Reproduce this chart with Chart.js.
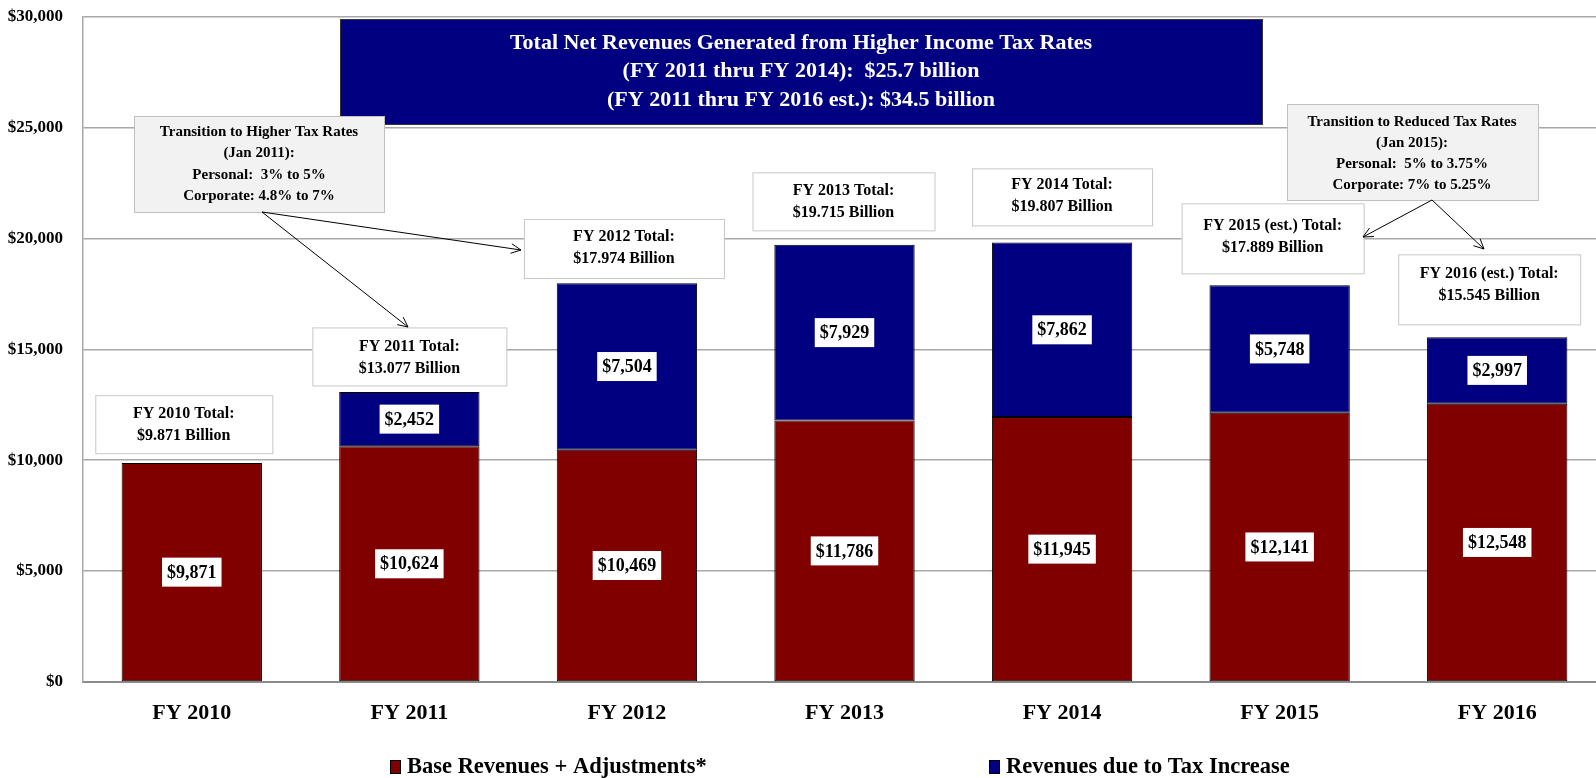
<!DOCTYPE html>
<html>
<head>
<meta charset="utf-8">
<script src="https://cdn.jsdelivr.net/npm/chart.js@4.4.0/dist/chart.umd.min.js"></script>
<style>
    html, body { margin: 0; padding: 0; background: #fff; overflow: hidden; }
    #wrap { width: 1606px; height: 778px; position: relative; }
</style>
</head>
<body>
<div id="wrap"><canvas id="revChart"></canvas></div>
<script>
const years = ["FY 2010", "FY 2011", "FY 2012", "FY 2013", "FY 2014", "FY 2015", "FY 2016"];
const baseRevenues = [9871, 10624, 10469, 11786, 11945, 12141, 12548];
const taxIncrease = [null, 2452, 7504, 7929, 7862, 5748, 2997];
const yearTotals = [9.871, 13.077, 17.974, 19.715, 19.807, 17.889, 15.545];
const totalTitles = ["FY 2010 Total:", "FY 2011 Total:", "FY 2012 Total:", "FY 2013 Total:",
    "FY 2014 Total:", "FY 2015 (est.) Total:", "FY 2016 (est.) Total:"];
const yMax = 30000;
const yStep = 5000;

const titleLines = [
    "Total Net Revenues Generated from Higher Income Tax Rates",
    "(FY 2011 thru FY 2014):  $25.7 billion",
    "(FY 2011 thru FY 2016 est.): $34.5 billion"
];
const higherNote = ["Transition to Higher Tax Rates", "(Jan 2011):", "Personal:  3% to 5%", "Corporate: 4.8% to 7%"];
const reducedNote = ["Transition to Reduced Tax Rates", "(Jan 2015):", "Personal:  5% to 3.75%", "Corporate: 7% to 5.25%"];

const RED = "#800000";
const BLUE = "#000080";
const SERIF = "'Liberation Serif', 'Times New Roman', serif";

// where the "FY xxxx Total" boxes sit: offset from bar centre, width, top (in $), height
const totalBoxes = [
    { dx: -8, w: 177, top: 12930, h: 58, ty: 19 },
    { dx: 0, w: 194, top: 15984, h: 58, ty: 19 },
    { dx: -3, w: 200, top: 20869, h: 59, ty: 18 },
    { dx: -1, w: 182, top: 22975, h: 58, ty: 19 },
    { dx: 0, w: 180, top: 23155, h: 57, ty: 17 },
    { dx: -7, w: 182, top: 21577, h: 70, ty: 23 },
    { dx: -8, w: 182, top: 19277, h: 70, ty: 19 }
];

function fmtMoney(v) {
    return "$" + v.toLocaleString("en-US");
}

function box(ctx, x, y, w, h, fill, stroke) {
    ctx.fillStyle = fill;
    ctx.fillRect(x, y, w, h);
    ctx.strokeStyle = stroke;
    ctx.lineWidth = 1;
    ctx.strokeRect(x + 0.5, y + 0.5, w, h);
}

function lines(ctx, arr, cx, y0, step, font, color) {
    ctx.font = font;
    ctx.fillStyle = color;
    ctx.textAlign = "center";
    ctx.textBaseline = "middle";
    arr.forEach((t, i) => ctx.fillText(t, cx, y0 + i * step));
}

function arrow(ctx, x1, y1, x2, y2) {
    ctx.strokeStyle = "#000";
    ctx.lineWidth = 1;
    ctx.beginPath();
    ctx.moveTo(x1, y1);
    ctx.lineTo(x2, y2);
    const a = Math.atan2(y2 - y1, x2 - x1);
    const len = 11;
    ctx.moveTo(x2 - len * Math.cos(a - 0.45), y2 - len * Math.sin(a - 0.45));
    ctx.lineTo(x2, y2);
    ctx.lineTo(x2 - len * Math.cos(a + 0.45), y2 - len * Math.sin(a + 0.45));
    ctx.stroke();
}

const annotations = {
    id: "annotations",
    afterDatasetsDraw(chart) {
        const ctx = chart.ctx;
        const xs = chart.scales.x;
        const ys = chart.scales.y;
        ctx.save();

        // value labels in the middle of every segment
        chart.data.datasets.forEach((ds, di) => {
            const meta = chart.getDatasetMeta(di);
            meta.data.forEach((el, i) => {
                const v = ds.data[i];
                if (v === null || v === undefined) return;
                const txt = fmtMoney(v);
                const cy = (el.y + el.base) / 2;
                ctx.font = "bold 18px " + SERIF;
                const w = ctx.measureText(txt).width + 10;
                ctx.fillStyle = "#fff";
                ctx.fillRect(el.x - w / 2, cy - 14.5, w, 29);
                ctx.fillStyle = "#000";
                ctx.textAlign = "center";
                ctx.textBaseline = "middle";
                ctx.fillText(txt, el.x, cy + 1);
            });
        });

        // total boxes above the bars
        totalBoxes.forEach((b, i) => {
            const cx = xs.getPixelForValue(i) + b.dx;
            const top = ys.getPixelForValue(b.top);
            box(ctx, cx - b.w / 2, top, b.w, b.h, "#fff", "#c8c8c8");
            lines(ctx, [totalTitles[i], "$" + yearTotals[i].toFixed(3) + " Billion"],
                cx, top + b.ty, 22, "bold 16px " + SERIF, "#000");
        });

        // headline box
        box(ctx, 340, 19, 922, 105, BLUE, "#333");
        lines(ctx, titleLines, 801, 43, 28.5, "bold 22px " + SERIF, "#fff");

        // rate change notes
        box(ctx, 134, 116, 250, 96, "#f2f2f2", "#c0c0c0");
        lines(ctx, higherNote, 259, 132, 21.5, "bold 15px " + SERIF, "#000");
        arrow(ctx, 262, 212, 408, 327);
        arrow(ctx, 262, 212, 521, 250);

        box(ctx, 1287, 104, 251, 96, "#f2f2f2", "#c0c0c0");
        lines(ctx, reducedNote, 1412, 122, 21, "bold 15px " + SERIF, "#000");
        arrow(ctx, 1432, 200, 1363, 237);
        arrow(ctx, 1432, 200, 1484, 249);

        // legend
        const legendX = [390, 989];
        chart.data.datasets.forEach((ds, di) => {
            const x = legendX[di];
            ctx.fillStyle = ds.backgroundColor;
            ctx.fillRect(x, 760, 10, 13);
            ctx.strokeStyle = "#000";
            ctx.strokeRect(x + 0.5, 760.5, 10, 13);
            ctx.fillStyle = "#000";
            ctx.font = "bold 22.5px " + SERIF;
            ctx.textAlign = "left";
            ctx.textBaseline = "middle";
            ctx.fillText(ds.label, x + 17, 767);
        });

        ctx.restore();
    }
};

document.addEventListener("DOMContentLoaded", () => {
    const ctx = document.getElementById("revChart").getContext("2d");
    new Chart(ctx, {
        type: "bar",
        data: {
            labels: years,
            datasets: [
                {
                    label: "Base Revenues + Adjustments*",
                    data: baseRevenues,
                    backgroundColor: RED,
                    borderColor: "#000",
                    borderWidth: 1,
                    borderSkipped: false
                },
                {
                    label: "Revenues due to Tax Increase",
                    data: taxIncrease,
                    backgroundColor: BLUE,
                    borderColor: "#000",
                    borderWidth: 1,
                    borderSkipped: false
                }
            ]
        },
        options: {
            responsive: true,
            maintainAspectRatio: false,
            animation: false,
            devicePixelRatio: 1,
            datasets: {
                bar: { categoryPercentage: 1, barPercentage: 0.645 }
            },
            layout: { padding: { top: 16.5, right: 0, bottom: 0, left: 0 }, autoPadding: false },
            plugins: {
                legend: { display: false },
                tooltip: { enabled: false }
            },
            scales: {
                x: {
                    stacked: true,
                    grid: { display: false, drawTicks: false },
                    border: { display: true, color: "#8c8c8c", width: 2 },
                    ticks: {
                        color: "#000",
                        padding: 18,
                        font: { family: SERIF, size: 22, weight: "bold" }
                    },
                    afterFit(scale) { scale.height = 96; }
                },
                y: {
                    stacked: true,
                    min: 0,
                    max: yMax,
                    grid: { color: "#a8a8a8", lineWidth: 1.5, drawTicks: false },
                    border: { display: true, color: "#a8a8a8", width: 1.5 },
                    ticks: {
                        stepSize: yStep,
                        color: "#000",
                        padding: 20,
                        font: { family: SERIF, size: 17, weight: "bold" },
                        callback: v => fmtMoney(v)
                    },
                    afterFit(scale) {
                        scale.width = 83;
                        scale.paddingTop = 0;
                        scale.paddingBottom = 0;
                    }
                }
            }
        },
        plugins: [annotations]
    });
});
</script>
</body>
</html>
